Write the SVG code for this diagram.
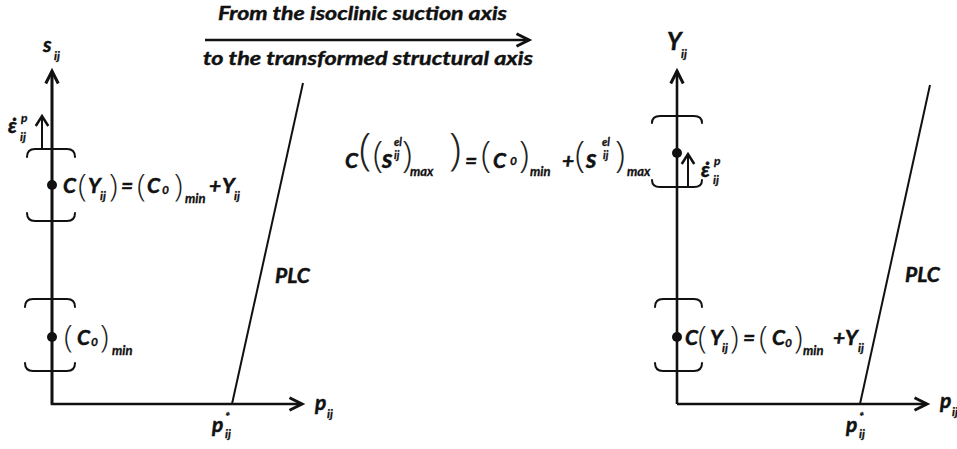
<svg xmlns="http://www.w3.org/2000/svg" width="957" height="449" viewBox="0 0 957 449">
<defs>
<marker id="ah" markerUnits="userSpaceOnUse" markerWidth="20" markerHeight="20" viewBox="-12 -8 14 16" refX="0" refY="0" orient="auto">
<path d="M-10,-5 L0,0 L-10,5" fill="none" stroke="#111" stroke-width="2.4" stroke-linejoin="miter"/>
</marker>
<marker id="ahs" markerUnits="userSpaceOnUse" markerWidth="20" markerHeight="20" viewBox="-12 -8 14 16" refX="0" refY="0" orient="auto">
<path d="M-8,-5 L0,0 L-8,5" fill="none" stroke="#111" stroke-width="2" stroke-linejoin="miter"/>
</marker>
</defs>
<style>
text{font-family:Lato,"Open Sans","Liberation Sans",sans-serif;font-style:italic;font-weight:bold;fill:#111;stroke:#111;stroke-width:0.5}
.eq{font-size:21px}
.big{font-size:24px}
.bs{font-size:26px}
.sub{font-size:12px;stroke-width:0.3}
.sm{font-size:11px;stroke-width:0.3}
.mn{font-size:13px;stroke-width:0.3}
.par{font-family:"Open Sans","Liberation Sans",sans-serif;font-style:normal;font-weight:300;font-size:32px;fill:#222;stroke:none}
.par2{font-family:"Open Sans","Liberation Sans",sans-serif;font-style:normal;font-weight:300;font-size:37px;fill:#222;stroke:none}
.par3{font-family:"Open Sans","Liberation Sans",sans-serif;font-style:normal;font-weight:300;font-size:45px;fill:#222;stroke:none}
.ttl{font-size:18px;stroke-width:0.4}
.ax{stroke:#111;stroke-width:2.6;fill:none}
.ln{stroke:#111;stroke-width:2;fill:none}
.br{stroke:#111;stroke-width:2;fill:none;stroke-linecap:round}
.dot{fill:#111}
</style>

<g id="title">
<text class="ttl" x="218" y="20" textLength="289" lengthAdjust="spacingAndGlyphs">From the isoclinic suction axis</text>
<text class="ttl" x="203" y="65" textLength="330" lengthAdjust="spacingAndGlyphs">to the transformed structural axis</text>
</g>

<g id="connectors">
<line class="ax" x1="205" y1="40" x2="529" y2="40" marker-end="url(#ah)"/>
<polyline class="ax" points="52,72 52,404 302,404" marker-end="url(#ah)"/>
<line class="ax" x1="52" y1="404" x2="52" y2="71" marker-end="url(#ah)"/>
<line class="ax" x1="677" y1="404" x2="677" y2="71" marker-end="url(#ah)"/>
<line class="ax" x1="677" y1="404" x2="927" y2="404" marker-end="url(#ah)"/>
<line class="ln" x1="232" y1="404" x2="303" y2="83"/>
<line class="ln" x1="860" y1="404" x2="930" y2="85"/>
<line class="ln" x1="42" y1="149" x2="42" y2="116" marker-end="url(#ahs)"/>
<line class="ln" x1="688" y1="187" x2="688" y2="154" marker-end="url(#ahs)"/>
</g>

<g id="left-axis-labels">
<text class="eq" x="43" y="52">s</text><text class="sub" x="54" y="60">ij</text>
<text class="eq" x="315" y="410">p</text><text class="sub" x="327" y="418">ij</text>
<text class="sub" x="225" y="421">*</text>
<text class="eq" x="212" y="432">p</text><text class="sub" x="225" y="438">ij</text>
<text class="eq" x="275" y="283">PLC</text>
</g>

<g id="left-upper">
<path class="br" d="M27,157 Q27,149 35,149 L67,149 Q75,149 75,157"/>
<path class="br" d="M27,213 Q27,221 35,221 L67,221 Q75,221 75,213"/>
<circle class="dot" cx="52" cy="185" r="5"/>
<text class="eq" x="8" y="133">ε̇</text><text class="sub" x="21" y="122">p</text><text class="sub" x="20" y="141">ij</text>
<text class="eq" x="63" y="193">C</text>
<text class="par" x="78" y="196">(</text>
<text class="eq" x="88" y="193">Y</text><text class="sub" x="100" y="200">ij</text>
<text class="par" x="109" y="196">)</text>
<text class="eq" x="121" y="193">=</text>
<text class="par" x="137" y="196">(</text>
<text class="eq" x="147" y="193">C</text><text class="sub" x="162" y="194">0</text>
<text class="par" x="174" y="196">)</text>
<text class="mn" x="185" y="203">min</text>
<text class="eq" x="209" y="193">+</text>
<text class="eq" x="222" y="193">Y</text><text class="sub" x="234" y="200">ij</text>
</g>

<g id="left-lower">
<path class="br" d="M25,307 Q25,299 33,299 L67,299 Q75,299 75,307"/>
<path class="br" d="M25,363 Q25,371 33,371 L67,371 Q75,371 75,363"/>
<circle class="dot" cx="52" cy="337" r="5"/>
<text class="par" x="64" y="347">(</text>
<text class="eq" x="77" y="345">C</text><text class="sub" x="91" y="346">0</text>
<text class="par" x="100" y="347">)</text>
<text class="mn" x="112" y="355">min</text>
</g>

<g id="middle-equation">
<text class="eq" x="345" y="168">C</text>
<text class="par3" x="359" y="165">(</text>
<text class="par2" x="373" y="167">(</text>
<text class="bs" x="382" y="168">s</text><text class="sm" x="394" y="146">el</text><text class="sm" x="394" y="159">ij</text>
<text class="par2" x="402" y="167">)</text>
<text class="mn" x="410" y="176">max</text>
<text class="par3" x="449" y="165">)</text>
<text class="eq" x="465" y="168">=</text>
<text class="par2" x="481" y="167">(</text>
<text class="eq" x="493" y="168">C</text><text class="sub" x="510" y="165">0</text>
<text class="par2" x="519" y="167">)</text>
<text class="mn" x="530" y="176">min</text>
<text class="eq" x="562" y="168">+</text>
<text class="par2" x="575" y="167">(</text>
<text class="bs" x="586" y="168">s</text><text class="sm" x="602" y="146">el</text><text class="sm" x="603" y="159">ij</text>
<text class="par2" x="615" y="167">)</text>
<text class="mn" x="627" y="176">max</text>
</g>

<g id="right-axis-labels">
<text class="big" x="667" y="50">Y</text><text class="sub" x="681" y="58">ij</text>
<text class="eq" x="940" y="408">p</text><text class="sub" x="952" y="416">ij</text>
<text class="sub" x="859" y="421">*</text>
<text class="eq" x="846" y="432">p</text><text class="sub" x="859" y="438">ij</text>
<text class="eq" x="905" y="282">PLC</text>
</g>

<g id="right-upper">
<path class="br" d="M652,123 Q652,116 660,116 L694,116 Q702,116 702,123"/>
<path class="br" d="M652,180 Q652,187 660,187 L694,187 Q702,187 702,180"/>
<circle class="dot" cx="677" cy="153" r="5"/>
<text class="eq" x="701" y="177">ε̇</text><text class="sub" x="714" y="165">p</text><text class="sub" x="713" y="184">ij</text>
</g>

<g id="right-lower">
<path class="br" d="M655,307 Q655,299 663,299 L694,299 Q702,299 702,307"/>
<path class="br" d="M655,363 Q655,371 663,371 L694,371 Q702,371 702,363"/>
<circle class="dot" cx="677" cy="337" r="5"/>
<text class="eq" x="685" y="345">C</text>
<text class="par" x="698" y="348">(</text>
<text class="eq" x="710" y="345">Y</text><text class="sub" x="722" y="352">ij</text>
<text class="par" x="730" y="348">)</text>
<text class="eq" x="743" y="345">=</text>
<text class="par" x="759" y="348">(</text>
<text class="eq" x="772" y="345">C</text><text class="sub" x="785" y="347">0</text>
<text class="par" x="794" y="348">)</text>
<text class="mn" x="803" y="355">min</text>
<text class="eq" x="833" y="345">+</text>
<text class="eq" x="845" y="345">Y</text><text class="sub" x="858" y="352">ij</text>
</g>
</svg>
